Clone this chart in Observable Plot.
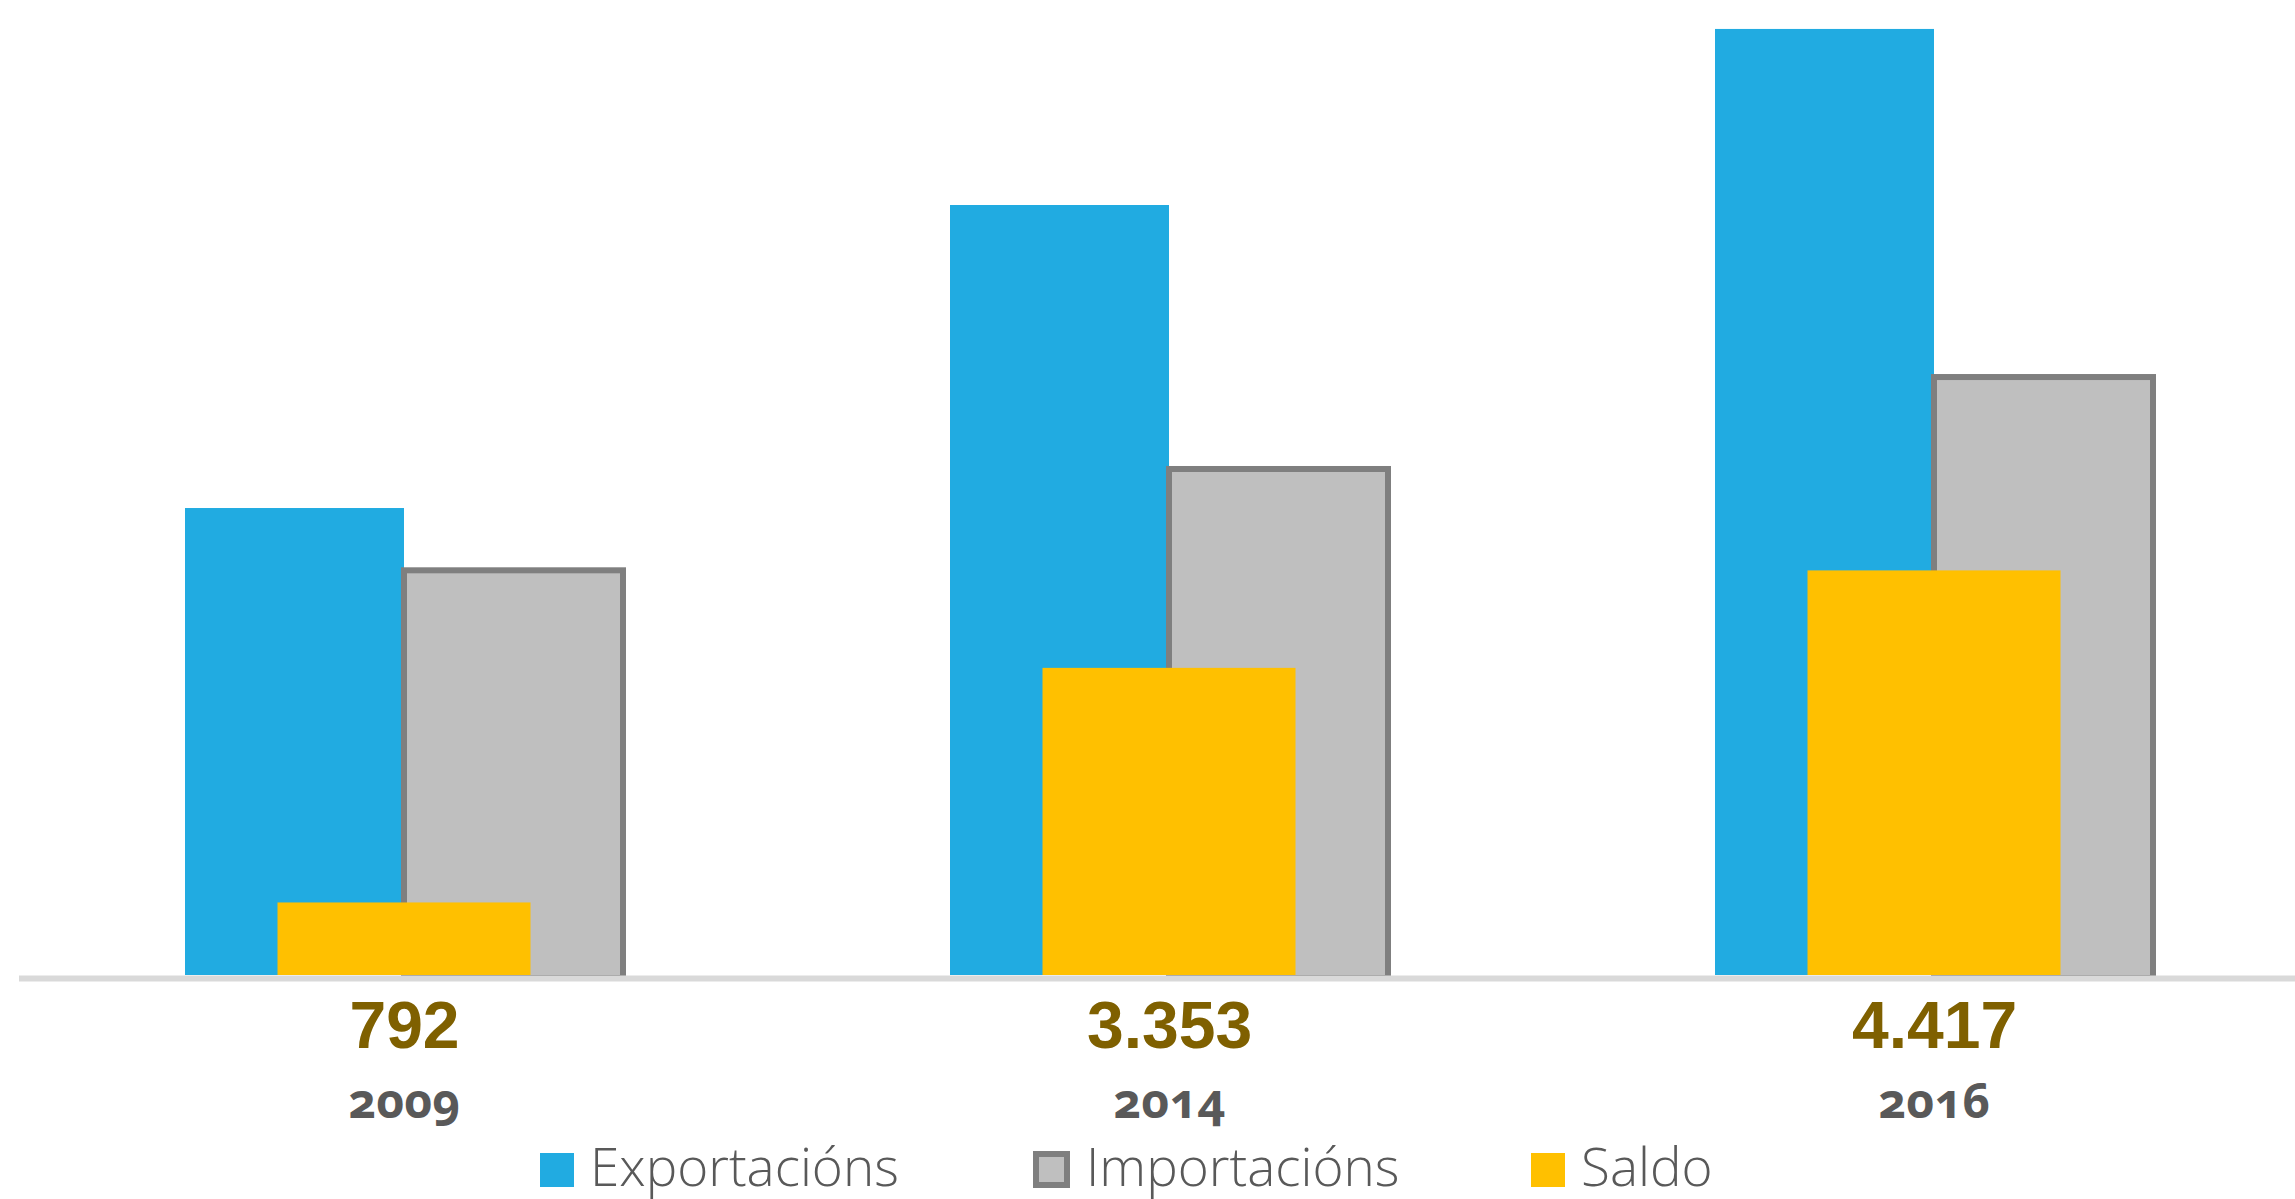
<!DOCTYPE html>
<html>
<head>
<meta charset="utf-8">
<script src="https://cdn.jsdelivr.net/npm/d3@7"></script>
<script src="https://cdn.jsdelivr.net/npm/@observablehq/plot@0.6"></script>
<style>
  html, body { margin: 0; padding: 0; background: #ffffff; overflow: hidden; }
  #chart { width: 2295px; height: 1140px; }
  #legend { position: relative; width: 2295px; height: 59px; font-family: "Open Sans", "Liberation Sans", sans-serif; }
  .item { position: absolute; top: 0; height: 59px; display: flex; align-items: center; }
  .sw { box-sizing: border-box; margin-right: 16px; }
  .lbl { font-size: 53px; color: #595959; font-weight: 300; line-height: 1; position: relative; top: -4px; }
  .years text { font-feature-settings: "onum" 1; font-variant-numeric: oldstyle-nums; }
</style>
</head>
<body>
<div id="chart"></div>
<div id="legend"></div>
<script>
// ---- Data ----
const years = ["2009", "2014", "2016"];
const exportacions = [5098, 8406, 10328];  // bar heights, in the saldo axis units
const importacions = [4418, 5524, 6528];   // bar heights, in the saldo axis units
const saldo = [792, 3353, 4417];           // printed data labels and yellow bar heights
const series = ["Exportacións", "Importacións", "Saldo"];
const colors = ["#21ABE1", "#BFBFBF", "#FFC000"];

const rows = years.map((year, i) => ({
  year,
  exportacions: exportacions[i],
  importacions: importacions[i],
  saldo: saldo[i]
}));

const locale = d3.formatLocale({decimal: ",", thousands: ".", grouping: [3], currency: ["", " €"]});
const fmt = locale.format(",d");

const chart = Plot.plot({
  width: 2295,
  height: 1140,
  marginTop: 0,
  marginLeft: 19,
  marginRight: 0,
  marginBottom: 165,
  style: {background: "#ffffff", fontFamily: "'Noto Sans', 'Open Sans', sans-serif"},
  x: {domain: years, range: [21, 2316], paddingInner: 0.4275, paddingOuter: 0.21375, axis: null},
  y: {domain: [0, 10644], axis: null},
  marks: [
    Plot.barY(rows, {x: "year", y: "exportacions", fill: colors[0], insetRight: 219}),
    Plot.barY(rows, {x: "year", y: "importacions", fill: colors[1], stroke: "#7F7F7F", strokeWidth: 6, insetLeft: 219, insetBottom: -3}),
    Plot.barY(rows, {x: "year", y: "saldo", fill: colors[2], insetLeft: 92.5, insetRight: 92.5}),
    Plot.ruleY([0], {stroke: "#D9D9D9", strokeWidth: 6, dy: 3}),
    Plot.text(rows, {x: "year", y: 0, text: d => fmt(d.saldo), fill: "#7F6000", fontSize: 66, fontWeight: "bold",
      fontFamily: "'Liberation Sans', Arial, sans-serif", lineAnchor: "top", dy: 26}),
    Plot.axisX({anchor: "bottom", label: null, tickSize: 0, tickPadding: 108, fontSize: 48, fontWeight: "bold",
      fill: "#595959", fontFamily: "'Noto Sans', sans-serif", className: "years"})
  ]
});
document.getElementById("chart").appendChild(chart);
d3.select(chart).selectAll('g[aria-label="x-axis tick label"] text')
  .style("font-feature-settings", '"onum" 1');

// ---- Legend ----
const legendX = [540, 1033, 1531];
const legend = d3.select("#legend");
series.forEach((s, i) => {
  const item = legend.append("div").attr("class", "item").style("left", legendX[i] + "px");
  const sw = item.append("div").attr("class", "sw")
    .style("width", i === 1 ? "37px" : "34px")
    .style("height", i === 1 ? "37px" : "34px")
    .style("background", colors[i]);
  if (i === 1) sw.style("border", "6px solid #7F7F7F");
  item.append("span").attr("class", "lbl").text(s);
});
</script>
</body>
</html>
